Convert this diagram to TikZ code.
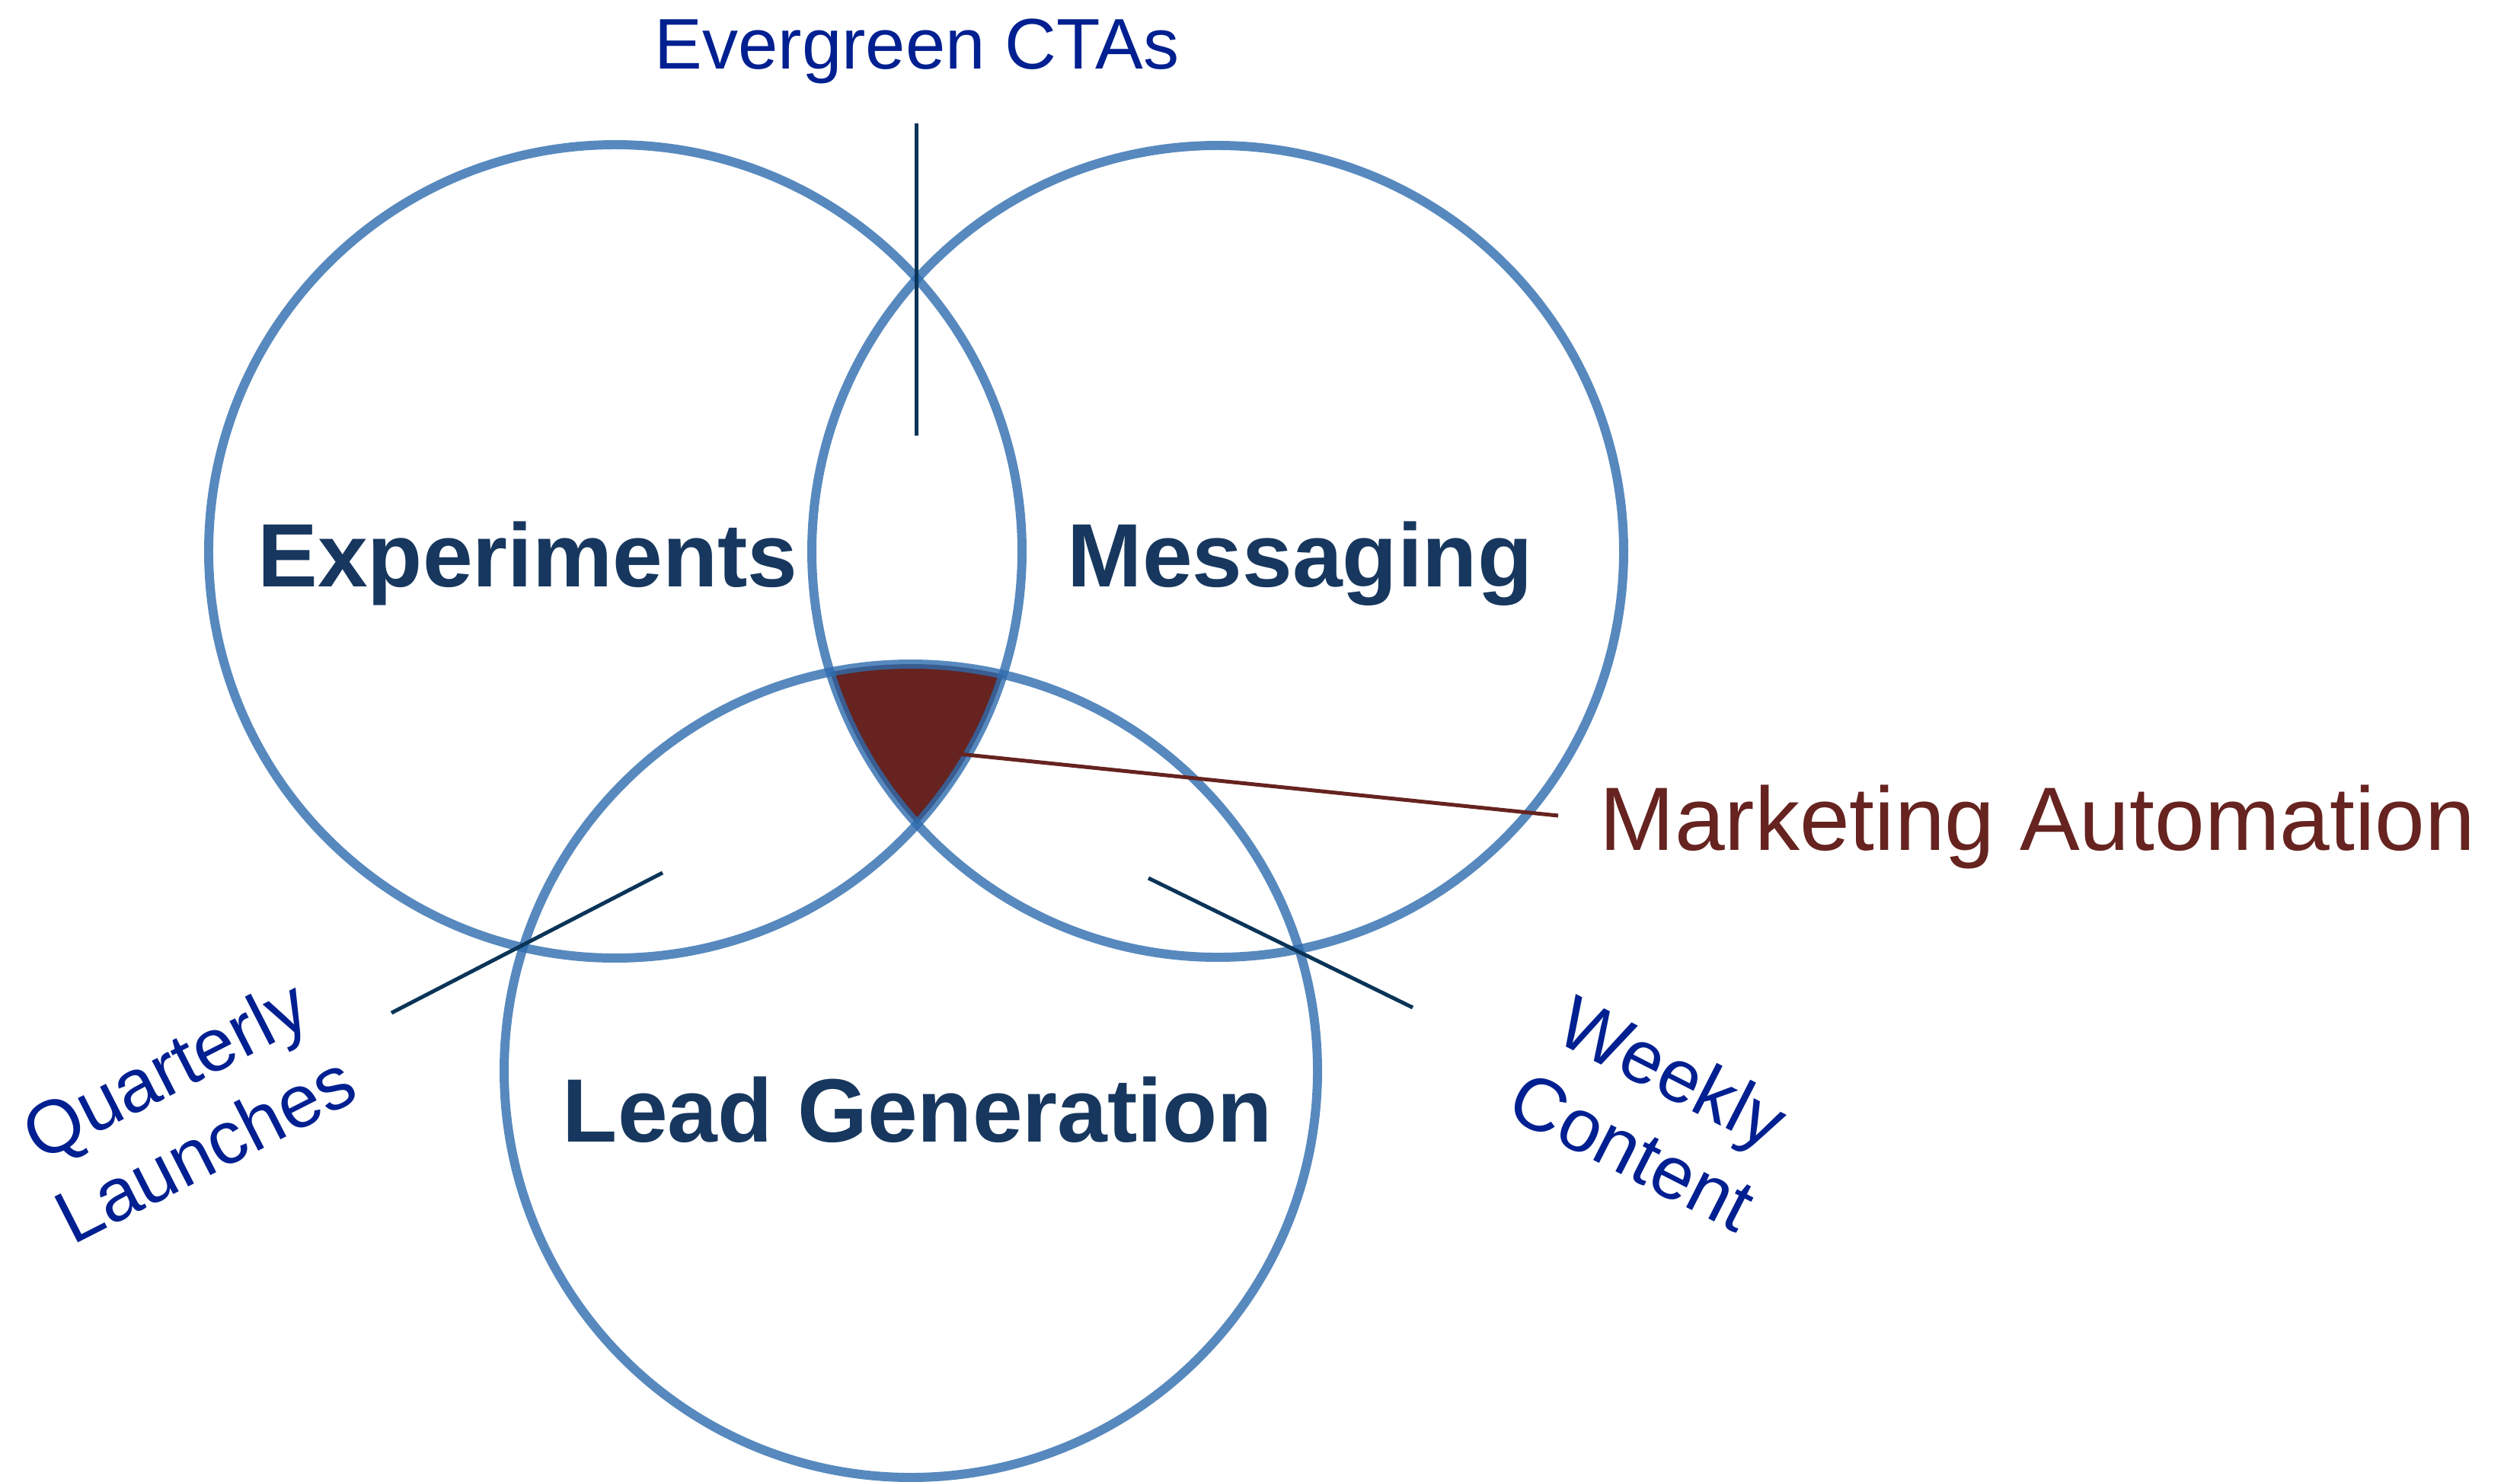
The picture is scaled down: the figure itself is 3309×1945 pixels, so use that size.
\documentclass[tikz,border=0pt]{standalone}
\usepackage{fontspec}
\setmainfont{Liberation Sans}
\definecolor{circblue}{RGB}{46,108,174}
\definecolor{navy}{RGB}{23,55,94}
\definecolor{lblue}{RGB}{0,32,145}
\definecolor{mred}{RGB}{102,35,31}
\definecolor{conn}{RGB}{10,52,88}
\begin{document}
\begin{tikzpicture}[x=0.01cm,y=-0.01cm,
  ring/.style={draw=circblue, draw opacity=0.8, line width=3.4pt},
  biglabel/.style={font=\fontsize{33.6pt}{40pt}\selectfont\bfseries, text=navy, inner sep=0pt, anchor=base},
  sidelabel/.style={font=\fontsize{27.9pt}{33pt}\selectfont, text=lblue, inner sep=0pt, anchor=base},
  toplabel/.style={font=\fontsize{26.75pt}{32pt}\selectfont, text=lblue, inner sep=0pt, anchor=base},
  redlabel/.style={font=\fontsize{33.6pt}{40pt}\selectfont, text=mred, inner sep=0pt, anchor=base west},
  link/.style={draw=conn, line width=1.42pt},
  redlink/.style={draw=mred, line width=1.42pt},
]
\useasboundingbox[fill=white] (0,0) rectangle (3309,1945);
\coordinate (cE) at (808,724);
\coordinate (cM) at (1599,724);
\coordinate (cL) at (1196,1406);
% triple intersection
\begin{scope}
  \clip (cE) circle[radius=534];
  \clip (cM) circle[radius=533];
  \fill[mred] (cL) circle[radius=534];
\end{scope}
% circles
\draw[ring] (cE) circle[radius=534];
\draw[ring] (cM) circle[radius=533];
\draw[ring] (cL) circle[radius=534];
% labels
\node[biglabel] (exp) at (693,770) {Experiments};
\node[biglabel] (msg) at (1707,770) {Messaging};
\node[biglabel] (lead) at (1205,1499) {Lead Generation};
\node[toplabel] (ever) at (1204,90) {Evergreen CTAs};
\node[redlabel] (mauto) at (2100,1116) {Marketing Automation};
\node[sidelabel, rotate=27] (quart) at (232,1435) {Quarterly};
\node[sidelabel, rotate=27] (launch) at (285,1539) {Launches};
\node[sidelabel, rotate=-27] (week) at (2181,1438) {Weekly};
\node[sidelabel, rotate=-27] (cont) at (2128,1542) {Content};
% connector end points
\coordinate (evTop) at (1203,162);
\coordinate (evBot) at (1203,572);
\coordinate (qIn) at (870,1146);
\coordinate (qOut) at (514,1330);
\coordinate (wIn) at (1508,1153);
\coordinate (wOut) at (1855,1323);
\coordinate (mIn) at (1240,988);
\coordinate (mOut) at (2046,1071);
% connectors
\draw[link] (evTop) -- (evBot);
\draw[link] (qIn) -- (qOut);
\draw[link] (wIn) -- (wOut);
\draw[redlink] (mIn) -- (mOut);
\end{tikzpicture}
\end{document}
